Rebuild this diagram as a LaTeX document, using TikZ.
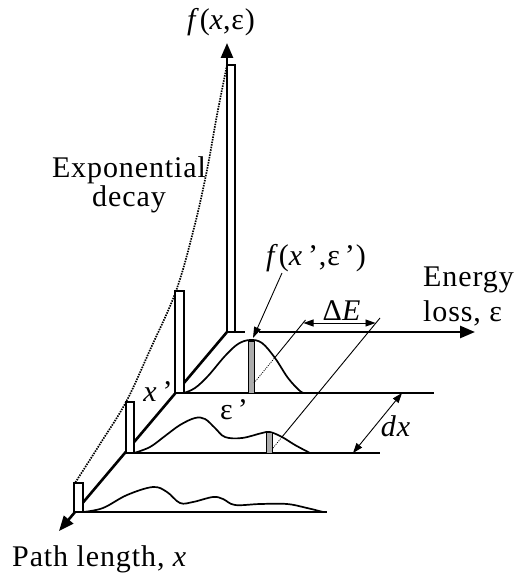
\documentclass[tikz,border=0pt]{standalone}
\usepackage{fontspec}
\setmainfont{Liberation Serif}[LetterSpace=3]
\usetikzlibrary{arrows.meta}
\begin{document}
\begin{tikzpicture}[x=1pt,y=-1pt,
  axisline/.style={line width=2.6pt,-{Triangle[length=15pt,width=12pt]}},
  planeline/.style={line width=1.8pt},
  barbox/.style={draw,line width=1.7pt,fill=white},
  greybar/.style={draw,line width=1pt,fill=gray!65},
  distcurve/.style={line width=1.7pt},
  guide/.style={line width=0.9pt},
  guidehidden/.style={line width=0.8pt,dash pattern=on 1pt off 1.2pt},
  dimarrow/.style={line width=0.9pt,{Triangle[length=10pt,width=7pt]}-{Triangle[length=10pt,width=7pt]}},
  ptr/.style={line width=0.9pt,-{Triangle[length=11pt,width=7pt]}},
  decay/.style={line width=1.7pt,dash pattern=on 1.5pt off 1.1pt},
  lbl/.style={font=\fontsize{30}{32}\selectfont,inner sep=0pt}
]
\useasboundingbox (0,0) rectangle (517,575);
% key coordinates
\coordinate (O) at (227,332);
\coordinate (Ftip) at (227,43);
\coordinate (Etip) at (475,332);
\coordinate (Xtip) at (59,531);
\coordinate (P1) at (175,393); \coordinate (P1e) at (434,393);
\coordinate (P2) at (126,453); \coordinate (P2e) at (380,453);
\coordinate (P3) at (75,512);  \coordinate (P3e) at (327,512);
% exponential decay (dotted)
\draw[decay] plot[smooth,tension=0.6] coordinates {(227,65) (217,115) (207,170) (194,228) (176,291) (150,350) (126,402) (100,444) (75,483)};
% plane lines
\draw[planeline] (P1) -- (P1e);
\draw[planeline] (P2) -- (P2e);
\draw[planeline] (P3) -- (P3e);
\draw[axisline] (O) -- (Etip);
\draw[axisline] (O) -- (Xtip);
% distributions
\draw[distcurve] plot[smooth,tension=0.6] coordinates {(184,393) (195,388) (208,376) (225,356) (238,344) (250,340) (262,343) (275,358) (288,378) (300,391) (305,393)};
\draw[distcurve] plot[smooth,tension=0.6] coordinates {(134,453) (150,447) (165,436) (180,425) (195,418) (205,419) (215,428) (225,437) (242,438) (262,433) (270,432) (282,437) (295,445) (310,453)};
\draw[distcurve] plot[smooth,tension=0.6] coordinates {(83,512) (103,508) (127,495) (153,487) (167,492) (180,503) (193,502) (213,497) (223,499) (235,505) (260,504) (287,504) (307,508) (323,512)};
% bars
\draw[barbox] (227,332) rectangle (235,65);
\draw[barbox] (175,393) rectangle (184,291);
\draw[barbox] (126,453) rectangle (134,402);
\draw[barbox] (74,512) rectangle (83,483);
\draw[greybar] (248,393) rectangle (254,341);
\draw[greybar] (266,453) rectangle (272,432);
% vertical axis
\draw[axisline] (O) -- (Ftip);
% Delta E guide lines
\coordinate (A0) at (254,383); \coordinate (A1) at (274.5,358); \coordinate (A2) at (305.5,320);
\coordinate (B0) at (273,448); \coordinate (B1) at (282,437); \coordinate (B2) at (380,318);
\draw[guidehidden] (A0) -- (A1);
\draw[guide] (A1) -- (A2);
\draw[guidehidden] (B0) -- (B1);
\draw[guide] (B1) -- (B2);
\coordinate (dEa) at (303.5,323); \coordinate (dEb) at (375.5,323);
\draw[dimarrow] (dEa) -- (dEb);
% dx
\coordinate (dxa) at (353,453); \coordinate (dxb) at (402,393);
\draw[dimarrow] (dxa) -- (dxb);
% labels
\node[lbl] (fxe) at (221,22) {\textit{f}(\textit{x},ε)};
\node[lbl,anchor=base] (expo) at (129,177) {Exponential};
\node[lbl,anchor=base] (dec) at (129,206) {decay};
\node[lbl,anchor=base] (fxp) at (316,265) {\textit{f}(\textit{x}\,’,ε\,’)};
\node[lbl,anchor=base] (dE) at (342,320) {Δ\textit{E}};
\node[lbl,anchor=base west] (en) at (423,286) {Energy};
\node[lbl,anchor=base west] (los) at (423,321) {loss, ε};
\node[lbl,anchor=base] (dx) at (396,436) {\textit{dx}};
\node[lbl] (xp) at (158,392) {\textit{x}\,’};
\node[lbl] (ep) at (234,410) {ε\,’};
\node[lbl,anchor=base west] (pl) at (12,566) {Path length, \textit{x}};
% pointer to f(x',e') with gap in the axis line
\coordinate (ptrs) at (282,273); \coordinate (ptre) at (253,338);
\coordinate (gapa) at (245,332); \coordinate (gapb) at (259,332);
\draw[white,line width=4pt] (gapa) -- (gapb);
\draw[ptr] (ptrs) -- (ptre);
\end{tikzpicture}
\end{document}
